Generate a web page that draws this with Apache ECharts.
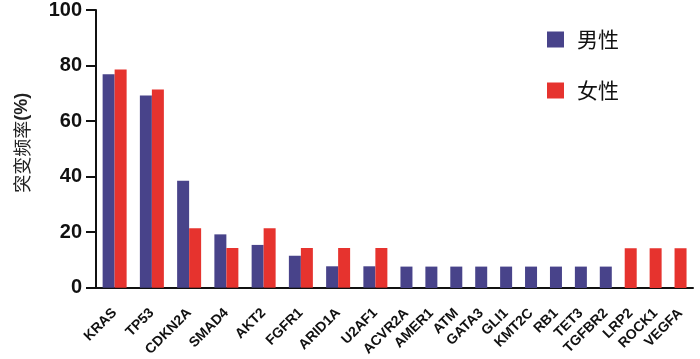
<!DOCTYPE html>
<html>
<head>
<meta charset="utf-8">
<script src="https://cdn.jsdelivr.net/npm/echarts@6/dist/echarts.min.js"></script>
<style>html,body{margin:0;padding:0;background:#fff}#c{width:700px;height:359px}</style>
</head>
<body>
<div id="c"></div>
<script>
var genes = ['KRAS','TP53','CDKN2A','SMAD4','AKT2','FGFR1','ARID1A','U2AF1','ACVR2A','AMER1','ATM','GATA3','GLI1','KMT2C','RB1','TET3','TGFBR2','LRP2','ROCK1','VEGFA'];
var maleRates = [76.9,69.2,38.5,19.2,15.4,11.5,7.7,7.7,7.7,7.7,7.7,7.7,7.7,7.7,7.7,7.7,7.7,0,0,0];
var femaleRates = [78.6,71.4,21.4,14.3,21.4,14.3,14.3,14.3,0,0,0,0,0,0,0,0,0,14.3,14.3,14.3];
var yTicks = [0,20,40,60,80,100];
var pairedCount = 8;

var BLUE = '#48438a', RED = '#e6332e';
var FONT = "'Liberation Sans', Arial, 'Noto Sans CJK SC', sans-serif";
var CJK = "'Noto Sans CJK SC', sans-serif";
var chart = echarts.init(document.getElementById('c'));

function xAxisFor(idx, cats) {
  return {
    type: 'category', gridIndex: idx, data: cats,
    axisLine: {lineStyle: {color: '#111', width: 2}},
    axisTick: {alignWithLabel: true, length: 10, lineStyle: {color: '#111', width: 2}},
    axisLabel: {rotate: 45, interval: 0, color: '#111', fontWeight: 'bold', fontSize: 14, fontFamily: FONT, margin: 23}
  };
}
function nz(v){ return v === 0 ? '-' : v; }

chart.setOption({
  animation: false,
  grid: [
    {left: 96, top: 10, width: 298, bottom: 71},
    {left: 394, top: 10, width: 299, bottom: 71}
  ],
  legend: {
    orient: 'vertical', left: 542, top: 24, itemWidth: 17, itemHeight: 16, itemGap: 30,
    icon: 'rect',
    textStyle: {fontSize: 21, color: '#111', fontFamily: CJK, padding: [0,0,0,8]},
    data: ['男性','女性']
  },
  xAxis: [xAxisFor(0, genes.slice(0, pairedCount)), xAxisFor(1, genes.slice(pairedCount))],
  yAxis: [
    {
      type: 'value', gridIndex: 0, min: yTicks[0], max: yTicks[yTicks.length-1], interval: 20,
      name: '{a|突变频率}{b|(%)}', nameLocation: 'middle', nameRotate: 90, nameGap: 65,
      nameTextStyle: {padding: [0,0,0,12], rich: {a: {fontSize: 18, color: '#222', fontFamily: CJK}, b: {fontSize: 18, color: '#222', fontWeight: 'bold', fontFamily: FONT}}},
      axisLine: {show: true, lineStyle: {color: '#111', width: 2}},
      axisTick: {show: true, length: 10, lineStyle: {color: '#111', width: 2}},
      axisLabel: {color: '#111', fontWeight: 'bold', fontSize: 20, fontFamily: FONT, margin: 14},
      splitLine: {show: false}
    },
    {type: 'value', gridIndex: 1, min: 0, max: 100, show: false, splitLine: {show: false}}
  ],
  series: [
    {name: '男性', type: 'bar', xAxisIndex: 0, yAxisIndex: 0, barWidth: 12, barGap: '0%', itemStyle: {color: BLUE}, data: maleRates.slice(0, pairedCount).map(nz)},
    {name: '女性', type: 'bar', xAxisIndex: 0, yAxisIndex: 0, barWidth: 12, barGap: '0%', itemStyle: {color: RED}, data: femaleRates.slice(0, pairedCount).map(nz)},
    {name: '男性', type: 'bar', xAxisIndex: 1, yAxisIndex: 1, barWidth: 12, barGap: '-100%', itemStyle: {color: BLUE}, data: maleRates.slice(pairedCount).map(nz)},
    {name: '女性', type: 'bar', xAxisIndex: 1, yAxisIndex: 1, barWidth: 12, barGap: '-100%', itemStyle: {color: RED}, data: femaleRates.slice(pairedCount).map(nz)}
  ]
});
</script>
</body>
</html>
